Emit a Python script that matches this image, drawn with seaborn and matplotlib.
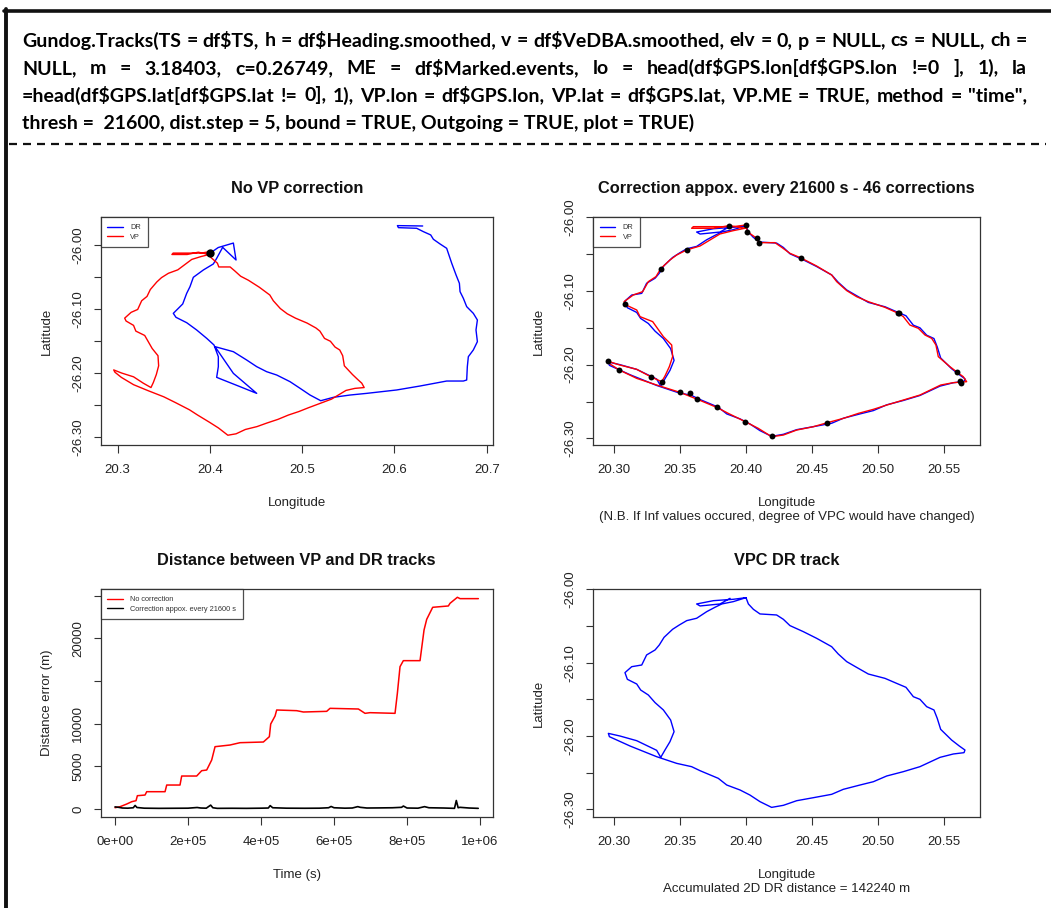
import matplotlib
matplotlib.use("Agg")
import pandas as pd
import seaborn as sns
import matplotlib.pyplot as plt
from matplotlib import font_manager
from matplotlib.lines import Line2D

# ---------------- data ----------------
# VP (GPS based) track, used in panels 1 and 2
vp_lon = [20.3992, 20.3904, 20.3803, 20.3727, 20.3652, 20.3550, 20.3475, 20.3424, 20.3354, 20.3318,
          20.3260, 20.3217, 20.3146, 20.3076, 20.3091, 20.3172, 20.3197, 20.3293, 20.3374, 20.3437,
          20.3444, 20.3419, 20.3386, 20.3361,
          20.3278, 20.3172, 20.3045, 20.2957, 20.2970, 20.3040, 20.3172, 20.3323,
          20.3500, 20.3626, 20.3778, 20.3866, 20.3995, 20.4093, 20.4194, 20.4283, 20.4384, 20.4510,
          20.4616, 20.4737, 20.4851, 20.4965, 20.5066, 20.5192, 20.5318, 20.5475, 20.5571, 20.5672,
          20.5646, 20.5601, 20.5545, 20.5457, 20.5439, 20.5407, 20.5356, 20.5306, 20.5242, 20.5192,
          20.5149, 20.5053, 20.4927, 20.4838, 20.4763, 20.4687, 20.4649, 20.4535, 20.4417, 20.4333,
          20.4270, 20.4219, 20.4096, 20.4081, 20.4010, 20.4000,
          20.3904, 20.3753, 20.3601, 20.3588, 20.3753, 20.3874, 20.3992]
vp_lat = [-26.0149, -26.0181, -26.0226, -26.0308, -26.0389, -26.0443, -26.0511, -26.0579, -26.0697, -26.0805,
          -26.0873, -26.1009, -26.1054, -26.1145, -26.1190, -26.1258, -26.1348, -26.1416, -26.1620, -26.1733,
          -26.1891, -26.2027, -26.2154, -26.2231,
          -26.2163, -26.2063, -26.2005, -26.1955, -26.1991, -26.2072, -26.2186, -26.2276,
          -26.2376, -26.2466, -26.2579, -26.2661, -26.2774, -26.2864, -26.2977, -26.2955, -26.2887, -26.2842,
          -26.2787, -26.2729, -26.2661, -26.2606, -26.2548, -26.2480, -26.2412, -26.2276, -26.2244, -26.2231,
          -26.2163, -26.2104, -26.2027, -26.1891, -26.1733, -26.1643, -26.1597, -26.1507, -26.1462, -26.1348,
          -26.1299, -26.1222, -26.1145, -26.1077, -26.0995, -26.0873, -26.0783, -26.0661, -26.0552, -26.0489,
          -26.0407, -26.0344, -26.0344, -26.0285, -26.0195, -26.0104,
          -26.0127, -26.0127, -26.0127, -26.0149, -26.0149, -26.0113, -26.0149]

# uncorrected dead-reckoned track (panel 1)
dr_lon = [20.4010, 20.4090, 20.4254, 20.4283, 20.4138, 20.4073, 20.4037, 20.3929, 20.3820, 20.3784,
          20.3748, 20.3705, 20.3640, 20.3603, 20.3632, 20.3748, 20.3856, 20.3965, 20.4044, 20.4091,
          20.4091, 20.4073, 20.4127, 20.4326, 20.4507, 20.4254, 20.4055, 20.4254, 20.4398, 20.4507,
          20.4615, 20.4724, 20.4868, 20.4977, 20.5085, 20.5201, 20.5338, 20.5519, 20.5699, 20.6024,
          20.6277, 20.6566, 20.6747, 20.6783, 20.6790, 20.6801, 20.6855, 20.6899, 20.6884, 20.6899,
          20.6855, 20.6783, 20.6747, 20.6711, 20.6704, 20.6668, 20.6621, 20.6566, 20.6494, 20.6422,
          20.6393, 20.6313, 20.6241, 20.6043, 20.6032, 20.6306]
dr_lat = [-26.0120, -26.0040, -25.9970, -26.0235, -26.0037, -26.0209, -26.0297, -26.0391, -26.0506, -26.0652,
          -26.0757, -26.0923, -26.1017, -26.1070, -26.1132, -26.1216, -26.1330, -26.1461, -26.1565, -26.1748,
          -26.1904, -26.2071, -26.2103, -26.2217, -26.2322, -26.2009, -26.1591, -26.1670, -26.1800, -26.1904,
          -26.1983, -26.2035, -26.2139, -26.2243, -26.2348, -26.2437, -26.2384, -26.2348, -26.2322, -26.2269,
          -26.2207, -26.2129, -26.2129, -26.2113, -26.1904, -26.1748, -26.1643, -26.1513, -26.1330, -26.1174,
          -26.1070, -26.0965, -26.0835, -26.0730, -26.0600, -26.0470, -26.0287, -26.0052, -25.9984, -25.9911,
          -25.9843, -25.9791, -25.9739, -25.9729, -25.9697, -25.9703]

# VP-corrected dead-reckoned track (panels 2 and 4)
vpc_lon = [20.4000, 20.3904, 20.3816, 20.3765, 20.3702, 20.3626, 20.3551, 20.3495, 20.3444, 20.3379,
           20.3343, 20.3311, 20.3247, 20.3210, 20.3134, 20.3083, 20.3101, 20.3172, 20.3202, 20.3260,
           20.3311, 20.3374, 20.3429, 20.3455, 20.3424, 20.3386, 20.3354,
           20.3323, 20.3172, 20.3045, 20.2957, 20.2965, 20.3121, 20.3323,
           20.3475, 20.3588, 20.3652, 20.3790, 20.3854, 20.3955, 20.4030, 20.4106, 20.4194, 20.4283,
           20.4384, 20.4510, 20.4649, 20.4737, 20.4864, 20.4965, 20.5066, 20.5192, 20.5318, 20.5470,
           20.5571, 20.5652,
           20.5659, 20.5616, 20.5558, 20.5475, 20.5449, 20.5424, 20.5369, 20.5318, 20.5268, 20.5212,
           20.5141, 20.5053, 20.4927, 20.4838, 20.4763, 20.4699, 20.4649, 20.4535, 20.4434, 20.4333,
           20.4283, 20.4232, 20.4106, 20.4056, 20.4018, 20.4000,
           20.3904, 20.3753, 20.3626, 20.3652, 20.3803, 20.3879]
vpc_lat = [-26.0114, -26.0168, -26.0200, -26.0245, -26.0305, -26.0395, -26.0427, -26.0486, -26.0545, -26.0655,
           -26.0759, -26.0827, -26.0895, -26.1032, -26.1055, -26.1136, -26.1227, -26.1291, -26.1373, -26.1441,
           -26.1545, -26.1645, -26.1782, -26.1941, -26.2077, -26.2191, -26.2291,
           -26.2195, -26.2064, -26.2000, -26.1964, -26.2009, -26.2136, -26.2282,
           -26.2373, -26.2418, -26.2473, -26.2577, -26.2668, -26.2736, -26.2805, -26.2895, -26.2973, -26.2945,
           -26.2882, -26.2841, -26.2795, -26.2727, -26.2668, -26.2623, -26.2545, -26.2486, -26.2418, -26.2291,
           -26.2245, -26.2227,
           -26.2191, -26.2136, -26.2055, -26.1909, -26.1759, -26.1645, -26.1600, -26.1500, -26.1464, -26.1336,
           -26.1282, -26.1214, -26.1155, -26.1064, -26.0986, -26.0882, -26.0782, -26.0668, -26.0577, -26.0495,
           -26.0409, -26.0350, -26.0336, -26.0273, -26.0200, -26.0114,
           -26.0136, -26.0155, -26.0200, -26.0227, -26.0200, -26.0123]

# VP correction points (panel 2)
corr_lon = [20.3874, 20.4000, 20.4010, 20.4081, 20.4096, 20.3550, 20.3354, 20.3083, 20.4417, 20.5149,
            20.5162, 20.2957, 20.3040, 20.3278, 20.3361, 20.3500, 20.3576, 20.3626, 20.3778, 20.3995,
            20.4194, 20.4616, 20.5601, 20.5621, 20.5626]
corr_lat = [-26.0113, -26.0104, -26.0195, -26.0285, -26.0344, -26.0443, -26.0697, -26.1176, -26.0552, -26.1299,
            -26.1303, -26.1955, -26.2072, -26.2163, -26.2231, -26.2376, -26.2380, -26.2466, -26.2579, -26.2774,
            -26.2968, -26.2787, -26.2104, -26.2217, -26.2244]
start_lon, start_lat = 20.400, -26.012

# distance between VP and DR tracks (panel 3)
err_t = [0, 13700, 32000, 45700, 57500, 61200, 82200, 86800, 137000, 141600,
         178000, 182600, 223700, 237400, 251100, 264800, 274000, 315000, 342500, 406400,
         422800, 426500, 438400, 442900, 497700, 516000, 579900, 589000, 666700, 684900,
         698600, 767100, 773500, 780800, 789900, 835600, 846600, 853900, 870300, 913200,
         917800, 937900, 945200, 995400]
err_nocorr = [156, 273, 586, 860, 977, 1562, 1640, 2031, 2031, 2812,
              2812, 3867, 3867, 4492, 4570, 5742, 7305, 7500, 7773, 7852,
              8477, 9961, 10898, 11602, 11523, 11367, 11445, 11797, 11719, 11211,
              11289, 11211, 13555, 16680, 17383, 17383, 20977, 22227, 23633, 23789,
              24102, 24805, 24648, 24648]
err_t_c = [0, 10000, 20000, 35000, 50000, 55000, 60000, 80000, 120000, 160000,
           200000, 225000, 235000, 250000, 262000, 268000, 280000, 320000, 360000, 400000,
           420000, 425000, 432000, 470000, 520000, 560000, 585000, 592000, 600000, 630000,
           650000, 665000, 672000, 690000, 720000, 760000, 785000, 790000, 800000, 830000,
           848000, 860000, 900000, 930000, 935000, 940000, 945000, 970000, 995000]
err_corr = [250, 200, 120, 100, 150, 420, 180, 100, 80, 90,
            100, 180, 120, 100, 460, 150, 80, 90, 80, 100,
            120, 400, 150, 100, 90, 100, 150, 300, 150, 100,
            120, 280, 200, 120, 130, 150, 200, 350, 120, 100,
            280, 150, 120, 80, 1000, 150, 200, 120, 80]

lon_ticks_1 = [20.3, 20.4, 20.5, 20.6, 20.7]
lon_labels_1 = ["20.3", "20.4", "20.5", "20.6", "20.7"]
lon_ticks_2 = [20.30, 20.35, 20.40, 20.45, 20.50, 20.55]
lon_labels_2 = ["20.30", "20.35", "20.40", "20.45", "20.50", "20.55"]
lat_ticks = [-26.30, -26.25, -26.20, -26.15, -26.10, -26.05, -26.00]
lat_labels = ["-26.30", "", "-26.20", "", "-26.10", "", "-26.00"]
t_ticks = [0, 200000, 400000, 600000, 800000, 1000000]
t_labels = ["0e+00", "2e+05", "4e+05", "6e+05", "8e+05", "1e+06"]
d_ticks = [0, 5000, 10000, 15000, 20000, 25000]
d_labels = ["0", "5000", "10000", "", "20000", ""]

header_lines = [
    "Gundog.Tracks(TS = df$TS, h = df$Heading.smoothed, v = df$VeDBA.smoothed, elv = 0, p = NULL, cs = NULL, ch =",
    "NULL, m = 3.18403, c=0.26749, ME = df$Marked.events, lo = head(df$GPS.lon[df$GPS.lon !=0 ], 1), la",
    "=head(df$GPS.lat[df$GPS.lat != 0], 1), VP.lon = df$GPS.lon, VP.lat = df$GPS.lat, VP.ME = TRUE, method = \"time\",",
    "thresh =  21600, dist.step = 5, bound = TRUE, Outgoing = TRUE, plot = TRUE)",
]

# ---------------- drawing ----------------
sns.set_theme(style="white")
plt.rcParams["font.family"] = ["Liberation Sans", "DejaVu Sans"]
plt.rcParams["axes.labelcolor"] = "#222222"
plt.rcParams["text.color"] = "#111111"

W, H = 1051, 908
fig = plt.figure(figsize=(W / 100, H / 100), dpi=100)
fig.patch.set_facecolor("white")


def add_axes_px(x0, y0, x1, y1):
    return fig.add_axes([x0 / W, 1 - y1 / H, (x1 - x0) / W, (y1 - y0) / H])


def style_axes(ax, xticks, xlabels, yticks, ylabels, xlim, ylim):
    ax.set_xlim(xlim)
    ax.set_ylim(ylim)
    ax.set_xticks(xticks)
    ax.set_xticklabels(xlabels)
    ax.set_yticks(yticks)
    ax.set_yticklabels(ylabels, rotation=90, va="center")
    ax.tick_params(direction="out", length=5.4, width=0.8, color="#333333",
                   labelsize=9.5, labelcolor="#222222", left=True, bottom=True)
    ax.tick_params(axis="x", pad=8.5)
    ax.tick_params(axis="y", pad=6.5)
    for sp in ax.spines.values():
        sp.set_visible(True)
        sp.set_color("#333333")
        sp.set_linewidth(0.9)
    ax.grid(False)


def track(ax, lon, lat, color, lw=1.0):
    df = pd.DataFrame({"lon": lon, "lat": lat})
    sns.lineplot(data=df, x="lon", y="lat", sort=False, estimator=None,
                 color=color, lw=lw, ax=ax, legend=False)


def small_legend(ax, entries):
    handles = [Line2D([], [], color=c, lw=1.0, label=l) for l, c in entries]
    leg = ax.legend(handles=handles, loc="upper left", fontsize=5.3, frameon=True,
                    fancybox=False, edgecolor="#222222", borderaxespad=0,
                    handlelength=2.1, handletextpad=1.0, labelspacing=0.35, borderpad=0.9)
    leg.get_frame().set_linewidth(0.9)
    for t in leg.get_texts():
        t.set_color("#333333")


title_kw = dict(fontsize=11.8, fontweight="bold", pad=17.3)
label_kw = dict(fontsize=9.5)
xlab_pad = 15

# panel 1: no correction
ax1 = add_axes_px(100.7, 217.3, 492.7, 445)
track(ax1, dr_lon, dr_lat, "blue")
track(ax1, vp_lon, vp_lat, "red")
sns.scatterplot(x=[start_lon], y=[start_lat], color="black", s=36, linewidth=0, ax=ax1, zorder=5)
style_axes(ax1, lon_ticks_1, lon_labels_1, lat_ticks, lat_labels, (20.2816, 20.7065), (-26.313, -25.9567))
ax1.set_title("No VP correction", **title_kw)
ax1.set_xlabel("Longitude", labelpad=xlab_pad, **label_kw)
ax1.set_ylabel("Latitude", labelpad=14, **label_kw)
small_legend(ax1, [("DR", "blue"), ("VP", "red")])

# panel 2: corrected
ax2 = add_axes_px(593.3, 217.3, 980, 445)
track(ax2, vpc_lon, vpc_lat, "blue")
track(ax2, vp_lon, vp_lat, "red")
sns.scatterplot(x=corr_lon, y=corr_lat, color="black", s=18, linewidth=0, ax=ax2, zorder=5)
style_axes(ax2, lon_ticks_2, lon_labels_2, lat_ticks, lat_labels, (20.2843, 20.5773), (-26.309, -26.0))
ax2.set_title("Correction appox. every 21600 s - 46 corrections", **title_kw)
ax2.set_xlabel("Longitude\n(N.B. If Inf values occured, degree of VPC would have changed)",
               labelpad=xlab_pad, linespacing=1.2, **label_kw)
ax2.set_ylabel("Latitude", labelpad=14, **label_kw)
small_legend(ax2, [("DR", "blue"), ("VP", "red")])

# panel 3: distance error
ax3 = add_axes_px(100.7, 589.3, 492.7, 816.7)
sns.lineplot(x=err_t, y=err_nocorr, sort=False, estimator=None, color="red", lw=1.1, ax=ax3)
sns.lineplot(x=err_t_c, y=err_corr, sort=False, estimator=None, color="black", lw=1.2, ax=ax3)
style_axes(ax3, t_ticks, t_labels, d_ticks, d_labels, (-39270, 1034700), (-898, 25742))
ax3.set_title("Distance between VP and DR tracks", **title_kw)
ax3.set_xlabel("Time (s)", labelpad=xlab_pad, **label_kw)
ax3.set_ylabel("Distance error (m)", labelpad=14, **label_kw)
small_legend(ax3, [("No correction", "red"), ("Correction appox. every 21600 s", "black")])

# panel 4: VPC DR track
ax4 = add_axes_px(593.3, 589.3, 980, 816.7)
track(ax4, vpc_lon, vpc_lat, "blue")
style_axes(ax4, lon_ticks_2, lon_labels_2, lat_ticks, lat_labels, (20.2843, 20.5773), (-26.31, -26.0))
ax4.set_title("VPC DR track", **title_kw)
ax4.set_xlabel("Longitude\nAccumulated 2D DR distance = 142240 m", labelpad=xlab_pad, linespacing=1.2, **label_kw)
ax4.set_ylabel("Latitude", labelpad=14, **label_kw)

# frame lines of the document box
fig.add_artist(Line2D([4 / W, 1.0], [1 - 10.5 / H] * 2, color="#111111", lw=2.6, transform=fig.transFigure))
fig.add_artist(Line2D([6 / W] * 2, [1 - 9 / H, 0.0], color="#111111", lw=2.8, transform=fig.transFigure))
fig.add_artist(Line2D([9 / W, 1046 / W], [1 - 144 / H] * 2, color="#111111", lw=1.6,
                      linestyle=(0, (3.6, 2.7)), transform=fig.transFigure))

# header text, justified like the word processor block
available = {f.name for f in font_manager.fontManager.ttflist}
hdr_family = [f for f in ["Lato", "Roboto", "Liberation Sans"] if f in available]
hdr_family = hdr_family + ["DejaVu Sans"]
renderer = fig.canvas.get_renderer()
hdr_kw = dict(fontweight="bold", family=hdr_family, va="baseline", ha="left", parse_math=False, color="#000000")


def text_width(s, fs):
    t = fig.text(0, 0, s, fontsize=fs, **hdr_kw)
    w = t.get_window_extent(renderer).width
    t.remove()
    return w


x_left, x_right = 22, 1027
baselines = [46.5, 74, 101.5, 129]
fs = 12.0
natural = text_width(header_lines[0], fs)
fs *= 0.99 * (x_right - x_left) / natural
fs = min(fs, 14.0)

for i, line in enumerate(header_lines):
    y = 1 - baselines[i] / H
    if i == len(header_lines) - 1:
        fig.text(x_left / W, y, line, fontsize=fs, **hdr_kw)
        continue
    words = line.split()
    widths = [text_width(w, fs) for w in words]
    gap = (x_right - x_left - sum(widths)) / (len(words) - 1)
    x = x_left
    for w, wd in zip(words, widths):
        fig.text(x / W, y, w, fontsize=fs, **hdr_kw)
        x += wd + gap

fig.savefig("out.png", dpi=100, facecolor="white")
